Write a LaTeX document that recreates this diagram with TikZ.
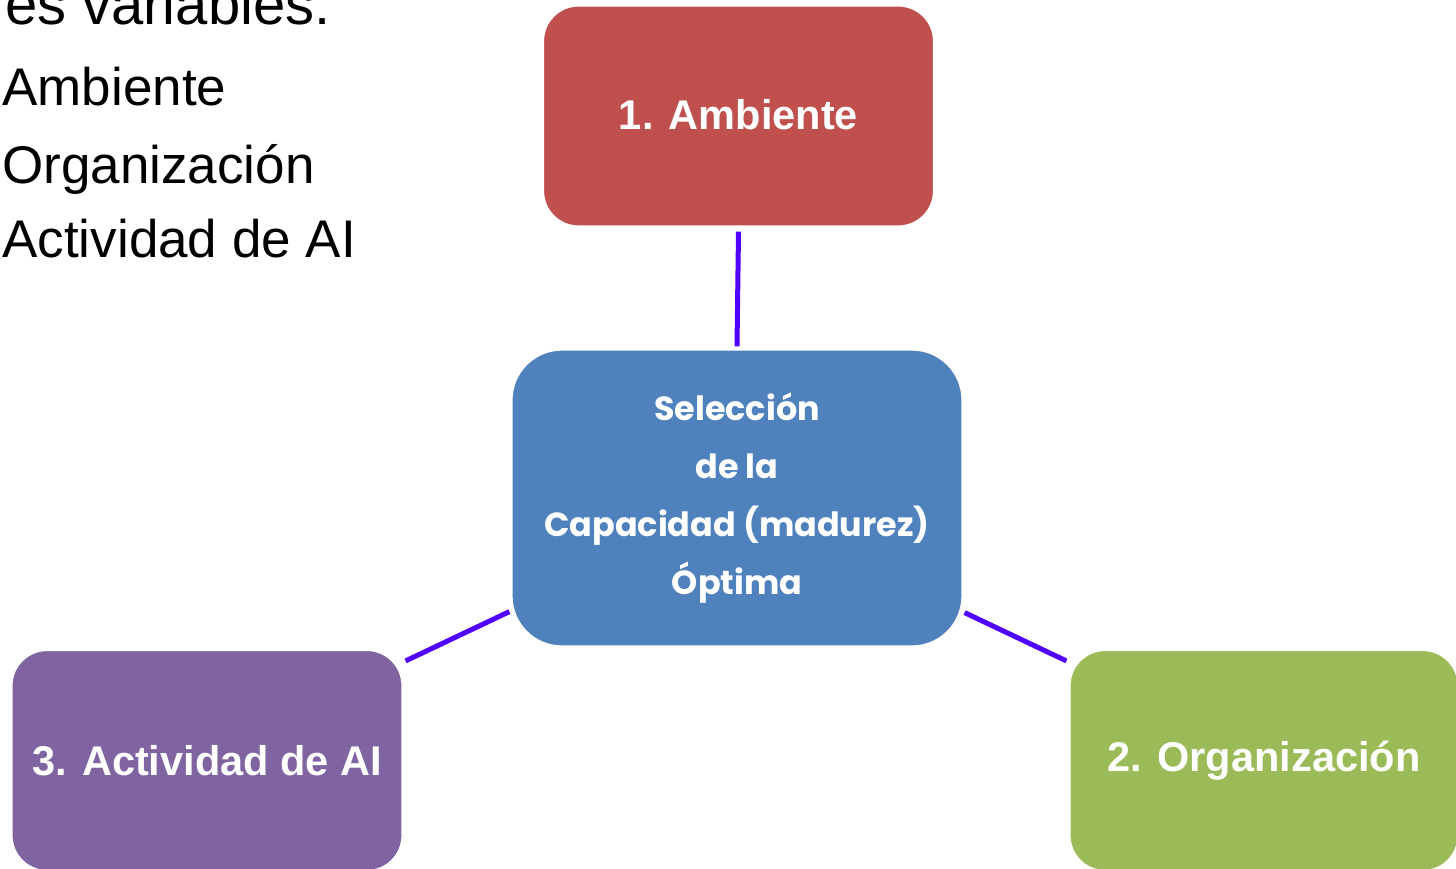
\documentclass[tikz,border=0pt]{standalone}
\usepackage{fontspec}
\setmainfont{Liberation Sans}
\newfontfamily\geofont{Poppins}
\usetikzlibrary{calc}
\definecolor{ambred}{HTML}{C0504D}
\definecolor{capblue}{HTML}{4F81BD}
\definecolor{orggreen}{HTML}{9BBB59}
\definecolor{actpurple}{HTML}{8064A2}
\definecolor{linkviolet}{HTML}{5000FF}

\begin{document}
\begin{tikzpicture}[x=0.5pt,y=-0.5pt,
  varbox/.style={rectangle, rounded corners=17.5pt, draw=white, line width=0.6pt,
    text=white, font=\bfseries\fontsize{20.75}{24}\selectfont,
    minimum width=195pt, minimum height=110pt, inner sep=0pt},
  hubbox/.style={rectangle, rounded corners=25pt, draw=white, line width=0.6pt,
    fill=capblue, text=white, align=center,
    font=\geofont\bfseries\fontsize{16.7}{29}\selectfont,
    minimum width=225pt, minimum height=148pt, inner sep=0pt},
  link/.style={draw=linkviolet, line width=2.5pt},
  listitem/.style={anchor=base west, inner sep=0pt, font=\fontsize{26.5}{30}\selectfont},
  heading/.style={anchor=base east, inner sep=0pt, font=\fontsize{29}{33}\selectfont}]
\useasboundingbox (0,0) rectangle (1456,868);
\begin{scope}
  \clip (0,0) rectangle (1456,868);

  % text list at the top left
  \node[heading] (head) at (331,24) {es variables:};
  \node[listitem] (li1) at (2,105) {Ambiente};
  \node[listitem] (li2) at (2,183) {Organización};
  \node[listitem] (li3) at (2,257) {Actividad de AI};

  % the three variables and the central box
  \node[varbox, fill=ambred] (amb) at (738.5,116) {\raisebox{1.5pt}{1. Ambiente}};
  \node[hubbox] (cen) at (737,498) {Selección\\de la\\Capacidad (madurez)\\Óptima};
  \node[varbox, fill=orggreen, minimum width=194pt] (org) at (1264,760.5) {\raisebox{-1pt}{2. Organización}};
  \node[varbox, fill=actpurple] (act) at (207,760.5) {3. Actividad de AI};

  % connectors
  \draw[link] ($(amb.south)+(0,5)$) -- ($(cen.north)+(0,-3)$);
  \draw[link] ($(cen.south west)+(-2,-35)$) -- ($(act.north east)+(3,11)$);
  \draw[link] ($(cen.south east)+(2,-34)$) -- ($(org.north west)+(-3,11)$);
\end{scope}
\end{tikzpicture}
\end{document}
